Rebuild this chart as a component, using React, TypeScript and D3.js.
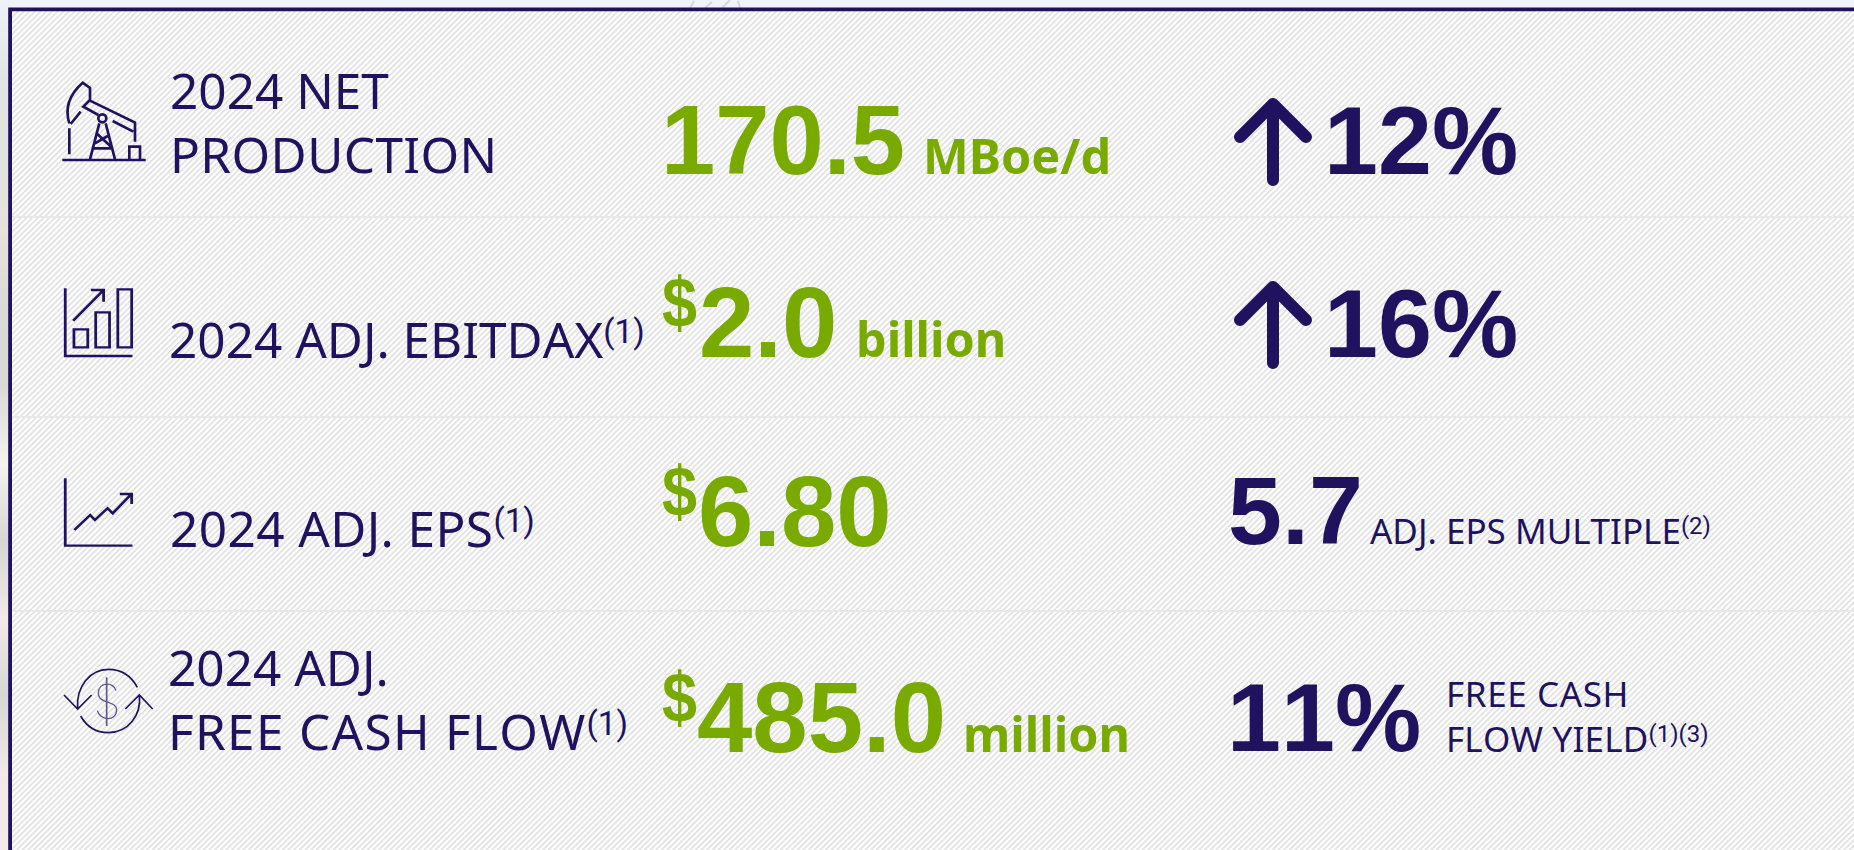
import React from "react";
import * as d3 from "d3";

// values
const metrics = ["production", "ebitdax", "eps", "fcf"];
const labelLines = [["2024 NET", "PRODUCTION"], ["2024 ADJ. EBITDAX"], ["2024 ADJ. EPS"], ["2024 ADJ.", "FREE CASH FLOW"]];
const labelNotes = ["", "(1)", "(1)", "(1)"];
const values = [170.5, 2.0, 6.8, 485.0];
const valueFormats = [".1f", ".1f", ".2f", ".1f"];
const valuePrefixes = ["", "$", "$", "$"];
const valueUnits = ["MBoe/d", "billion", "", "million"];
const sideValues = ["12%", "16%", "5.7", "11%"];
const sideArrows = [true, true, false, false];
const sideLines = [[], [], ["ADJ. EPS MULTIPLE"], ["FREE CASH", "FLOW YIELD"]];
const sideNotes = ["", "", "(2)", "(1)(3)"];

const W = 1854;
const H = 850;
const NAVY = "#20125f";
const GREEN = "#78aa00";
const LABEL_FONT = "'Noto Sans', sans-serif";
const NOTE_FONT = "Roboto, sans-serif";
const BIG_FONT = "'Liberation Sans', Arial, sans-serif";
const UNIT_FONT = "'Noto Sans', sans-serif";

// row layout
const baseline = d3.scaleOrdinal<string, number>().domain(metrics).range([174, 357, 546, 752]);
const labelBase = d3.scaleOrdinal<string, number>().domain(metrics).range([173, 358, 547, 750]);
const labelX = d3.scaleOrdinal<string, number>().domain(metrics).range([170, 169, 170, 168]);
const valueX = d3.scaleOrdinal<string, number>().domain(metrics).range([661, 699, 698, 697]);
const valueSize = d3.scaleOrdinal<string, number>().domain(metrics).range([97.5, 99.5, 99.5, 99.5]);
const unitX = d3.scaleOrdinal<string, number>().domain(metrics).range([923, 856, 0, 963]);
const sideX = d3.scaleOrdinal<string, number>().domain(metrics).range([1324, 1324, 1228, 1227]);
const sideBase = d3.scaleOrdinal<string, number>().domain(metrics).range([174, 357, 544, 751]);
const sideLineX = d3.scaleOrdinal<string, number>().domain(metrics).range([0, 0, 1370, 1446]);
const labelTracking = [[0, 0.4], [0], [0.4], [0, 1.3]];
const sideTracking = [[], [], [0], [0.6, 0.2]];
const rules = [217, 417, 611];

const icons = [
  {
    x: 40, y: 60, sx: 1 / 3,
    d: "M67 300H317 M88 283V205 M88 190C72 140 92 100 128 68L150 84V120L130 140L175 165 M150 122L285 188V245 M122 155L92 192 M218 183L280 215 M150 298L178 190 M225 298L197 190 M172 222L215 262 M203 228L165 250 M155 265H220 M268 298V260H300V298",
    w: 8,
  },
  {
    x: 0, y: 0, sx: 1 / 2.529,
    d: "M165 865V1068H335 M187 988H222V1042H187Z M242 937H277V1042H242Z M298 868H333V1042H298Z M185 962L262 870 M230 870H262V905",
    w: 7,
  },
  {
    x: 0, y: 430, sx: 1 / 2.529,
    d: "M165 145V347H335 M188 300L228 255L240 270L272 235L285 250L330 195 M303 192H333V222",
    w: 7,
  },
  {
    x: 40, y: 650, sx: 1 / 3,
    d: "M113 175C108 110 150 58 205 58C245 58 275 80 292 112 M122 198C140 230 170 248 205 248C265 248 305 195 298 135 M72 135L113 177L155 135 M256 177L298 135L338 177",
    w: 5,
  },
];
const dollarLine = "M200 82V228";
const dollarS = "M228 122C222 95 176 95 175 128C175 165 230 150 230 180C228 218 178 210 172 182";

const stripColors = ["#eef2f8", "#e2e5e6", "#dfe3de", "#e8e1dd", "#dadad6", "#d9d9d5", "#f6f3ef", "#d6d6d5", "#f1e9e7", "#d7d7d5", "#f0e9e7", "#f3ebea"];
const stripStop = d3.scaleLinear().domain([0, stripColors.length - 1]).range([0, 100]);

const Arrow = ({ y }: { y: number }) => {
  const x = 1273;
  const d = `M${x} ${y + 6}V${y + 82} M${x - 33} ${y + 39}L${x} ${y + 6}L${x + 33} ${y + 39}`;
  return <path d={d} fill="none" stroke={NAVY} strokeWidth={12} strokeLinecap="round" strokeLinejoin="round" />;
};

export default function App() {
  return (
    <svg width={W} height={H} style={{ position: "absolute", left: 0, top: 0, display: "block", fontKerning: "none" }}>
      <defs>
        <pattern id="hatch" width={4} height={4} patternUnits="userSpaceOnUse" patternTransform="rotate(-45)">
          <rect width={4} height={4} fill="#ffffff" />
          <rect width={4} height={1.6} fill="#dedede" />
        </pattern>
        <linearGradient id="strip" x1={0} x2={0} y1={0} y2={1}>
          {stripColors.map((c, i) => (
            <stop key={i} offset={`${stripStop(i)}%`} stopColor={c} />
          ))}
        </linearGradient>
      </defs>

      <rect width={W} height={H} fill="#f0f3f7" />
      <rect width={10} height={H} fill="url(#strip)" />
      <path d="M690 8L694 1 M705 8L712 2 M722 8L730 0 M740 8L738 1" stroke="#d5d7da" strokeWidth={2} fill="none" />

      <rect x={10} y={9} width={W - 10} height={H - 9} fill="url(#hatch)" />
      <path d={`M10.1 ${H}V9.4H${W}`} fill="none" stroke={NAVY} strokeWidth={3.8} />

      {rules.map((y) => (
        <line key={y} x1={12} x2={W} y1={y} y2={y} stroke="#e8e8e8" strokeWidth={2} />
      ))}

      {icons.map((ic, i) => (
        <g key={i} transform={`translate(${ic.x},${ic.y}) scale(${ic.sx},${1 / 3})`} fill="none" stroke={NAVY} strokeWidth={ic.w}>
          <path d={ic.d} />
          {i === 0 && <circle cx={187} cy={175} r={12} />}
          {i === 3 && (
            <g stroke="#5f5494" strokeWidth={4}>
              <path d={dollarLine} strokeWidth={5} />
              <path d={dollarS} />
            </g>
          )}
        </g>
      ))}

      {metrics.map((m, i) => {
        const lines = labelLines[i];
        const fmt = d3.format(valueFormats[i]);
        const b = baseline(m);
        return (
          <g key={m}>
            {lines.map((t, j) => (
              <text
                key={j}
                x={labelX(m)}
                y={labelBase(m) - (lines.length - 1 - j) * 64}
                fontFamily={LABEL_FONT}
                fontSize={49.5}
                letterSpacing={labelTracking[i][j]}
                fill={NAVY}
              >
                {t}
                {j === lines.length - 1 && labelNotes[i] && (
                  <tspan dy={-15} fontSize={33} letterSpacing={0} fontFamily={NOTE_FONT}>{labelNotes[i]}</tspan>
                )}
              </text>
            ))}

            {valuePrefixes[i] && (
              <text transform={`translate(662,${b - 30}) scale(0.9,1)`} fontFamily={BIG_FONT} fontWeight={700} fontSize={70} fill={GREEN}>
                {valuePrefixes[i]}
              </text>
            )}
            <text x={valueX(m)} y={b} fontFamily={BIG_FONT} fontWeight={700} fontSize={valueSize(m)} fill={GREEN}>
              {fmt(values[i])}
            </text>
            {valueUnits[i] && (
              <text x={unitX(m)} y={b} fontFamily={UNIT_FONT} fontWeight={700} fontSize={48.5} fill={GREEN}>
                {valueUnits[i]}
              </text>
            )}

            {sideArrows[i] && <Arrow y={sideBase(m) - 76} />}
            <text x={sideX(m)} y={sideBase(m)} fontFamily={BIG_FONT} fontWeight={700} fontSize={97} fill={NAVY}>
              {sideValues[i]}
            </text>
            {sideLines[i].map((t, j) => (
              <text
                key={j}
                x={sideLineX(m)}
                y={sideBase(m) + (sideLines[i].length > 1 ? 1 : 0) - (sideLines[i].length - 1 - j) * 45}
                fontFamily={LABEL_FONT}
                fontSize={35}
                letterSpacing={sideTracking[i][j]}
                fill={NAVY}
              >
                {t}
                {j === sideLines[i].length - 1 && (
                  <tspan dy={-10} fontSize={24} letterSpacing={0} fontFamily={NOTE_FONT}>{sideNotes[i]}</tspan>
                )}
              </text>
            ))}
          </g>
        );
      })}
    </svg>
  );
}
